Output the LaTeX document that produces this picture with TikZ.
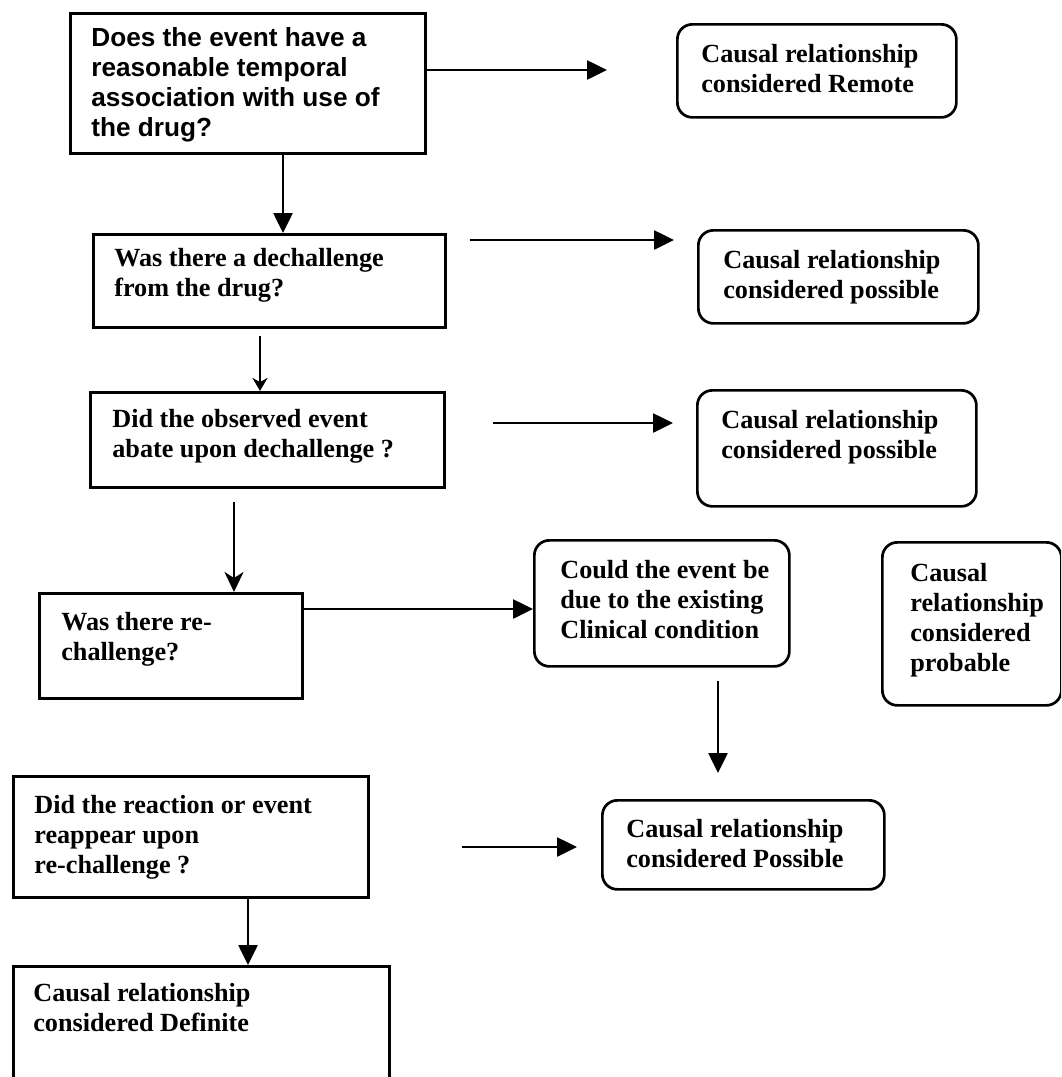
\documentclass[tikz,border=0pt]{standalone}
\usepackage{fontspec}
\setmainfont{Liberation Serif}
\newfontfamily\arialf{Liberation Sans}
\usetikzlibrary{arrows.meta}
\newcommand{\bt}[5]{\parbox[c][#2][t]{#1}{\vspace*{#4}\hspace*{#3}\parbox[t]{\dimexpr #1 - #3\relax}{\raggedright\strut #5}}}
\tikzset{
  x=1pt, y=-1pt,
  sbox/.style={draw, line width=2.7pt, inner sep=0pt, anchor=north west, font=\fontsize{26.2}{30}\selectfont\bfseries},
  rbox/.style={sbox, rounded corners=15pt},
  tri/.style={line width=2.6pt, -{Triangle[length=20pt,width=19pt]}},
  stl/.style={line width=2.6pt, -{Stealth[length=20pt,width=19pt,inset=6pt]}},
  thin stl/.style={line width=1.7pt, -{Stealth[length=13pt,width=15pt,inset=4pt]}}
}
\begin{document}
\begin{tikzpicture}
\useasboundingbox (0,0) rectangle (1061,1077);
\fill[white] (0,0) rectangle (1061,1077);
\clip (0,0) rectangle (1061,1077);

\node[sbox, font=\fontsize{26.2}{30}\selectfont\bfseries\arialf] (b1) at (69,12) {\bt{355pt}{140pt}{21pt}{12.5pt}{Does the event have a\\ reasonable temporal\\ association with use of\\ the drug?}};
\node[rbox] (rem) at (676,23) {\bt{279pt}{93pt}{24pt}{17pt}{Causal relationship\\ considered Remote}};
\node[sbox] (b2) at (92,233) {\bt{352pt}{93pt}{21pt}{11pt}{Was there a dechallenge\\ from the drug?}};
\node[rbox] (pos1) at (697,229) {\bt{280pt}{93pt}{25pt}{17pt}{Causal relationship\\ considered possible}};
\node[sbox] (b3) at (89,391) {\bt{354pt}{95pt}{22pt}{14pt}{Did the observed event\\ abate upon dechallenge ?}};
\node[rbox] (pos2) at (696,389) {\bt{279pt}{116pt}{24pt}{17pt}{Causal relationship\\ considered possible}};
\node[sbox] (b4) at (38,592) {\bt{263pt}{105pt}{22pt}{16pt}{Was there re-\\ challenge?}};
\node[rbox] (could) at (533,539) {\bt{255pt}{126pt}{26pt}{17pt}{Could the event be\\ due to the existing\\ Clinical condition}};
\node[rbox] (prob) at (881,541) {\bt{179pt}{163pt}{28pt}{18pt}{Causal\\ relationship\\ considered\\ probable}};
\node[rbox] (pos3) at (601,799) {\bt{282pt}{89pt}{24pt}{16pt}{Causal relationship\\ considered Possible}};
\node[sbox] (b5) at (12,775) {\bt{355pt}{121pt}{21pt}{16pt}{Did the reaction or event\\ reappear upon\\ re-challenge ?}};
\node[sbox] (b6) at (12,965) {\bt{376pt}{150pt}{20pt}{14pt}{Causal relationship\\ considered Definite}};

\coordinate (r1) at (607,70);
\coordinate (c283) at (283,0);
\coordinate (y240) at (0,240);
\coordinate (c260) at (260,0);
\coordinate (y423) at (0,423);
\coordinate (c234) at (234,0);
\coordinate (y609) at (0,609);
\coordinate (c718) at (718,0);
\coordinate (y847) at (0,847);
\coordinate (c248) at (248,0);

\draw[tri] (b1.east |- r1) -- (r1);
\draw[tri] (b1.south -| c283) -- (b2.north -| c283);
\draw[tri, shorten <=23pt, shorten >=23pt] (b2.east |- y240) -- (pos1.west |- y240);
\draw[thin stl, shorten <=7pt] (b2.south -| c260) -- (b3.north -| c260);
\draw[tri, shorten <=47pt, shorten >=23pt] (b3.east |- y423) -- (pos2.west |- y423);
\draw[stl, shorten <=13pt] (b3.south -| c234) -- (b4.north -| c234);
\draw[tri] (b4.east |- y609) -- (could.west |- y609);
\draw[tri, shorten <=13pt, shorten >=26pt] (could.south -| c718) -- (pos3.north -| c718);
\draw[tri, shorten <=92pt, shorten >=24pt] (b5.east |- y847) -- (pos3.west |- y847);
\draw[tri] (b5.south -| c248) -- (b6.north -| c248);
\end{tikzpicture}
\end{document}
